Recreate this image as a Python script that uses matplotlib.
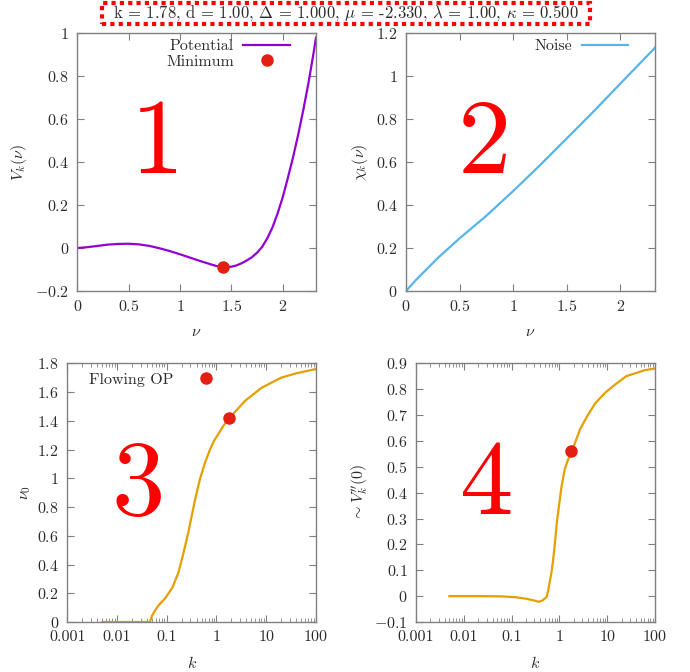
import matplotlib
matplotlib.use('Agg')
from matplotlib import pyplot as plt
from matplotlib.patches import Rectangle
from matplotlib.ticker import FuncFormatter, MultipleLocator, LogLocator, NullFormatter

plt.rcParams['font.family'] = 'serif'
plt.rcParams['font.serif'] = ['cmr10']
plt.rcParams['mathtext.fontset'] = 'cm'
plt.rcParams['axes.formatter.use_mathtext'] = True
plt.rcParams['font.size'] = 11.5

TEXT_COLOR = '#2b2b2b'
AXIS_COLOR = '#808080'
DOT_COLOR = '#e31f14'

TITLE = r'k = 1.78, d = 1.00, $\Delta$ = 1.000, $\mu$ = -2.330, $\lambda$ = 1.00, $\kappa$ = 0.500'

# panel 1: potential
nu_pot = [0, 0.1, 0.2, 0.3, 0.4, 0.5, 0.6, 0.7, 0.8, 0.9, 1.0, 1.1, 1.2, 1.3, 1.35,
          1.4, 1.45, 1.5, 1.55, 1.6, 1.65, 1.7, 1.75, 1.8, 1.85, 1.9, 1.95, 2.0,
          2.05, 2.1, 2.15, 2.2, 2.25, 2.3, 2.325]
pot = [0, 0.004, 0.010, 0.016, 0.019, 0.020, 0.017, 0.010, -0.001, -0.014, -0.029,
       -0.045, -0.061, -0.076, -0.083, -0.088, -0.089, -0.087, -0.081, -0.071,
       -0.058, -0.043, -0.022, 0.005, 0.045, 0.095, 0.16, 0.235, 0.325, 0.42, 0.525,
       0.64, 0.765, 0.905, 0.98]
min_nu = [1.42]
min_pot = [-0.09]

# panel 2: noise
nu_noise = [0, 0.1, 0.2, 0.3, 0.4, 0.5, 0.75, 1.0, 1.25, 1.5, 1.75, 2.0, 2.33]
noise = [0, 0.055, 0.105, 0.155, 0.200, 0.245, 0.350, 0.465, 0.585, 0.710, 0.835,
         0.965, 1.135]

# panel 3: flowing order parameter
k_op = [0.005, 0.02, 0.046, 0.05, 0.058, 0.07, 0.093, 0.13, 0.17, 0.21, 0.27, 0.37,
        0.47, 0.59, 0.74, 0.89, 1.1, 1.41, 1.82, 2.8, 3.8, 8.1, 20, 40, 100]
nu0 = [0, 0, 0, 0.04, 0.08, 0.12, 0.165, 0.24, 0.34, 0.46, 0.62, 0.85,
       1.0, 1.11, 1.2, 1.26, 1.31, 1.37, 1.42, 1.49, 1.54, 1.63, 1.70, 1.73, 1.76]
k_now = [1.78]
nu0_now = [1.42]

# panel 4: curvature at the origin
k_mass = [0.005, 0.02, 0.06, 0.12, 0.2, 0.3, 0.37, 0.45, 0.54, 0.58, 0.62, 0.68,
          0.74, 0.79, 0.84, 0.89, 0.95, 1.1, 1.29, 1.5, 1.82, 2.1, 2.7, 3.8, 5.6,
          8.9, 14, 25, 60, 100]
mass = [0, 0, -0.001, -0.004, -0.010, -0.017, -0.022, -0.016, -0.003, 0.02, 0.05,
        0.09, 0.14, 0.19, 0.24, 0.29, 0.33, 0.42, 0.49, 0.525, 0.56, 0.59, 0.645,
        0.695, 0.745, 0.785, 0.815, 0.85, 0.873, 0.88]
mass_now = [0.56]


def fmt(v, pos):
    return f'${v:g}$'


def style_axes(ax):
    for s in ax.spines.values():
        s.set_color(AXIS_COLOR)
        s.set_linewidth(1.0)
    ax.tick_params(which='both', direction='in', top=True, right=True,
                   color=AXIS_COLOR, labelcolor=TEXT_COLOR, pad=6)
    ax.tick_params(which='major', length=5)
    ax.tick_params(which='minor', length=3)
    ax.yaxis.set_major_formatter(FuncFormatter(fmt))


def big_number(ax, s, x, y):
    ax.text(x, y, s, transform=ax.transAxes, ha='center', va='center',
            fontsize=77, color='red', family='cmr10')


fig = plt.figure(figsize=(6.9, 6.72), dpi=100)

ax1 = fig.add_axes([0.112, 0.567, 0.346, 0.3835])
ax1.plot(nu_pot, pot, color='#9400d3', lw=1.6, label='Potential')
ax1.plot(min_nu, min_pot, 'o', color=DOT_COLOR, ms=8, label='Minimum')
ax1.set_xlim(0, 2.325)
ax1.set_ylim(-0.2, 1)
ax1.xaxis.set_major_locator(MultipleLocator(0.5))
ax1.yaxis.set_major_locator(MultipleLocator(0.2))
ax1.xaxis.set_major_formatter(FuncFormatter(fmt))
style_axes(ax1)
ax1.set_xlabel(r'$\nu$', color=TEXT_COLOR, labelpad=8)
ax1.set_ylabel(r'$V_k(\nu)$', color=TEXT_COLOR, labelpad=4)
ax1.legend(loc='upper right', bbox_to_anchor=(0.93, 1.015), frameon=False,
           markerfirst=False, handlelength=2.9, handletextpad=0.6,
           labelspacing=0.1, borderaxespad=0.2, fontsize=11.5,
           labelcolor=TEXT_COLOR)
big_number(ax1, '1', 0.334, 0.563)

ax2 = fig.add_axes([0.5884, 0.567, 0.3609, 0.3835])
ax2.plot(nu_noise, noise, color='#56b4e9', lw=1.6, label='Noise')
ax2.set_xlim(0, 2.325)
ax2.set_ylim(0, 1.2)
ax2.xaxis.set_major_locator(MultipleLocator(0.5))
ax2.yaxis.set_major_locator(MultipleLocator(0.2))
ax2.xaxis.set_major_formatter(FuncFormatter(fmt))
style_axes(ax2)
ax2.set_xlabel(r'$\nu$', color=TEXT_COLOR, labelpad=8)
ax2.set_ylabel(r'$\chi_k(\nu)$', color=TEXT_COLOR, labelpad=4)
ax2.legend(loc='upper right', bbox_to_anchor=(0.93, 1.015), frameon=False,
           markerfirst=False, handlelength=2.9, handletextpad=0.6,
           borderaxespad=0.2, fontsize=11.5, labelcolor=TEXT_COLOR)
big_number(ax2, '2', 0.313, 0.563)


def log_axes(ax):
    ax.set_xscale('log')
    ax.set_xlim(0.001, 100)
    ax.xaxis.set_major_locator(LogLocator(base=10, numticks=10))
    ax.xaxis.set_minor_locator(LogLocator(base=10, subs=range(2, 10), numticks=20))
    ax.xaxis.set_major_formatter(FuncFormatter(lambda v, p: f'{v:g}'))
    ax.xaxis.set_minor_formatter(NullFormatter())


ax3 = fig.add_axes([0.0975, 0.0744, 0.3604, 0.385])
ax3.plot(k_op, nu0, color='#e69f00', lw=1.6)
ax3.plot(k_now, nu0_now, 'o', color=DOT_COLOR, ms=8, label='Flowing OP')
log_axes(ax3)
ax3.set_ylim(0, 1.8)
ax3.yaxis.set_major_locator(MultipleLocator(0.2))
style_axes(ax3)
ax3.set_xlabel(r'$k$', color=TEXT_COLOR, labelpad=8)
ax3.set_ylabel(r'$\nu_0$', color=TEXT_COLOR, labelpad=3)
ax3.legend(loc='upper left', bbox_to_anchor=(0.05, 1.0), frameon=False,
           markerfirst=False, handlelength=2.9, handletextpad=0.6,
           borderaxespad=0.2, fontsize=11.5, labelcolor=TEXT_COLOR)
big_number(ax3, '3', 0.284, 0.518)

ax4 = fig.add_axes([0.6029, 0.0744, 0.3464, 0.385])
ax4.plot(k_mass, mass, color='#e69f00', lw=1.6)
ax4.plot(k_now, mass_now, 'o', color=DOT_COLOR, ms=8)
log_axes(ax4)
ax4.set_ylim(-0.1, 0.9)
ax4.yaxis.set_major_locator(MultipleLocator(0.1))
style_axes(ax4)
ax4.set_xlabel(r'$k$', color=TEXT_COLOR, labelpad=8)
ax4.set_ylabel(r"$\sim V_k''(0)$", color=TEXT_COLOR, labelpad=3)
big_number(ax4, '4', 0.297, 0.522)

# title box with dotted red frame
fig.patches.append(Rectangle((0.1478, 0.9643), 0.7072, 0.0313,
                             transform=fig.transFigure, facecolor='white',
                             edgecolor='red', linewidth=3,
                             linestyle=(0, (1, 1)), zorder=5))
fig.text(0.5014, 0.98, TITLE, ha='center', va='center', fontsize=12,
         color=TEXT_COLOR, zorder=6)

fig.savefig('out.png', dpi=100)
